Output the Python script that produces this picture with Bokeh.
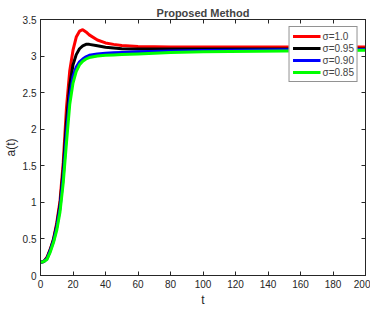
from bokeh.plotting import figure
from bokeh.models import LinearAxis, CustomJSTickFormatter, Legend, LegendItem, FixedTicker, Range1d
from bokeh.embed import file_html
from bokeh.resources import INLINE

t = [0, 2, 4, 6, 8, 10, 12, 14, 16, 18, 20, 22, 24, 26, 28, 30, 35, 40, 45, 50, 60, 80, 100, 150, 200]
a_10 = [0.18, 0.19, 0.25, 0.36, 0.50, 0.72, 1.02, 1.55, 2.30, 2.80, 3.08, 3.26, 3.34, 3.36, 3.33, 3.29, 3.22, 3.18, 3.16, 3.145, 3.13, 3.125, 3.125, 3.125, 3.125]
a_095 = [0.18, 0.19, 0.24, 0.35, 0.49, 0.69, 0.97, 1.45, 2.10, 2.60, 2.88, 3.02, 3.10, 3.14, 3.16, 3.16, 3.14, 3.12, 3.11, 3.10, 3.095, 3.095, 3.095, 3.097, 3.098]
a_090 = [0.18, 0.19, 0.23, 0.34, 0.47, 0.66, 0.92, 1.35, 1.95, 2.45, 2.72, 2.85, 2.92, 2.96, 2.99, 3.01, 3.03, 3.04, 3.045, 3.05, 3.06, 3.07, 3.075, 3.085, 3.09]
a_085 = [0.18, 0.19, 0.22, 0.32, 0.45, 0.62, 0.87, 1.27, 1.82, 2.34, 2.63, 2.79, 2.88, 2.93, 2.96, 2.98, 3.00, 3.01, 3.015, 3.02, 3.03, 3.05, 3.06, 3.07, 3.08]
labels = ["σ=1.0", "σ=0.95", "σ=0.90", "σ=0.85"]
colors = ["#ff0000", "#000000", "#0000ff", "#00ff00"]
x_ticks = [0, 20, 40, 60, 80, 100, 120, 140, 160, 180, 200]
y_ticks = [0, 0.5, 1, 1.5, 2, 2.5, 3, 3.5]

FONT = "Liberation Sans"

p = figure(frame_width=325, frame_height=256, output_backend="svg", toolbar_location=None,
           x_range=Range1d(0, 200), y_range=Range1d(0, 3.5),
           title="Proposed Method", min_border_left=31, min_border_right=5,
           min_border_top=19, min_border_bottom=0)
p.title.align = "center"
p.title.text_font = FONT
p.title.text_font_size = "11px"
p.title.text_font_style = "bold"
p.title.offset = 0
p.title.standoff = 2
p.xgrid.visible = False
p.ygrid.visible = False
p.outline_line_color = "#262626"
p.outline_line_width = 1

fmt = CustomJSTickFormatter(code="return String(Math.round(tick*10)/10);")
for ax in (p.xaxis[0], p.yaxis[0]):
    ax.major_tick_in = 4
    ax.major_tick_out = 0
    ax.minor_tick_in = 0
    ax.minor_tick_out = 0
    ax.axis_line_color = "#262626"
    ax.major_tick_line_color = "#262626"
    ax.major_label_text_font = FONT
    ax.major_label_text_font_size = "10px"
    ax.major_label_text_color = "#262626"
    ax.axis_label_text_font = FONT
    ax.axis_label_text_font_size = "12px"
    ax.axis_label_text_font_style = "normal"
    ax.axis_label_text_color = "#262626"
    ax.formatter = fmt
    ax.major_label_standoff = 4
    ax.axis_label_standoff = 2
p.xaxis[0].ticker = FixedTicker(ticks=x_ticks)
p.yaxis[0].ticker = FixedTicker(ticks=y_ticks)
p.xaxis[0].axis_label = "t"
p.yaxis[0].axis_label = "a(t)"

blank = CustomJSTickFormatter(code="return '';")
for side, ticks in (("right", y_ticks), ("above", x_ticks)):
    ax = LinearAxis(ticker=FixedTicker(ticks=ticks), formatter=blank,
                    major_tick_in=4, major_tick_out=0, minor_tick_in=0, minor_tick_out=0,
                    axis_line_color="#262626", major_tick_line_color="#262626",
                    major_label_standoff=0, major_label_text_font_size="1px")
    p.add_layout(ax, side)

series = [a_10, a_095, a_090, a_085]
items = []
for ys, c, lab in zip(series, colors, labels):
    r = p.line(t, ys, line_color=c, line_width=3)
    items.append(LegendItem(label=lab, renderers=[r]))

legend = Legend(items=items, location="top_right")
legend.label_text_font = FONT
legend.label_text_font_size = "10px"
legend.label_height = 10
legend.glyph_height = 12
legend.glyph_width = 28
legend.spacing = 0
legend.padding = 3
legend.margin = 7
legend.label_standoff = 2
legend.border_line_color = "#262626"
legend.border_line_width = 1
legend.background_fill_alpha = 1
p.add_layout(legend)

open("out.html", "w").write(file_html(p, INLINE))
